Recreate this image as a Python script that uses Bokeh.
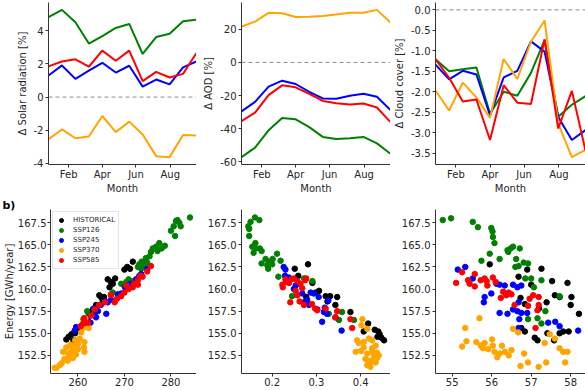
from bokeh.plotting import figure
from bokeh.layouts import column, row
from bokeh.models import FixedTicker, Span
from bokeh.embed import file_html
from bokeh.resources import INLINE

# ---------------- data: monthly changes (top row) ----------------
month_pos = [0, 1, 2, 3, 4, 5, 6, 7, 8, 9, 10, 11]
month_tick_pos = [1.5, 4.0, 6.5, 9.05]
month_tick_labels = ["Feb", "Apr", "Jun", "Aug"]

solar_126 = [4.82, 5.26, 4.51, 3.23, 3.68, 4.17, 4.41, 2.60, 3.62, 3.82, 4.57, 4.67]
solar_245 = [1.30, 1.91, 1.10, 1.59, 2.07, 1.48, 1.89, 0.63, 1.06, 0.77, 1.79, 2.15]
solar_370 = [-2.54, -1.95, -2.48, -2.38, -1.14, -2.11, -1.48, -2.26, -3.56, -3.62, -2.28, -2.32]
solar_585 = [1.85, 2.15, 2.28, 1.83, 2.80, 2.19, 2.80, 0.96, 1.52, 1.18, 1.40, 2.66]

aod_126 = [-57.1, -51.4, -40.9, -33.5, -34.3, -39.0, -44.9, -46.1, -45.7, -44.9, -48.8, -55.1]
aod_245 = [-29.5, -23.8, -14.6, -11.0, -13.0, -17.7, -21.7, -21.9, -20.1, -18.9, -20.7, -28.7]
aod_370 = [21.7, 24.6, 29.9, 29.7, 27.4, 27.6, 28.0, 28.9, 29.9, 29.9, 31.7, 24.0]
aod_585 = [-35.4, -30.3, -19.7, -13.8, -15.0, -18.9, -23.2, -24.6, -25.4, -24.8, -27.2, -36.0]

cloud_126 = [-1.21, -1.50, -1.45, -1.41, -2.54, -2.00, -2.10, -1.54, -0.74, -2.61, -2.32, -2.11]
cloud_245 = [-1.34, -1.70, -1.49, -1.58, -2.58, -1.65, -1.49, -0.77, -1.02, -2.62, -3.18, -2.94]
cloud_370 = [-1.97, -2.46, -1.78, -2.14, -2.64, -1.20, -1.69, -0.78, -0.26, -2.78, -3.60, -3.42]
cloud_585 = [-1.21, -1.66, -2.24, -2.19, -3.18, -1.84, -2.27, -2.30, -0.72, -2.90, -1.98, -3.44]

solar_ticks = [-4, -2, 0, 2, 4]
solar_tick_labels = ["-4", "-2", "0", "2", "4"]
aod_ticks = [-60, -40, -20, 0, 20]
aod_tick_labels = ["-60", "-40", "-20", "0", "20"]
cloud_ticks = [-3.5, -3.0, -2.5, -2.0, -1.5, -1.0, -0.5, 0.0]
cloud_tick_labels = ["-3.5", "-3.0", "-2.5", "-2.0", "-1.5", "-1.0", "-0.5", "0.0"]

# ---------------- data: yearly energy scatter (bottom row) ----------------
energy_ticks = [152.5, 155.0, 157.5, 160.0, 162.5, 165.0, 167.5]
energy_tick_labels = ["152.5", "155.0", "157.5", "160.0", "162.5", "165.0", "167.5"]
sr_ticks = [260, 270, 280]
sr_tick_labels = ["260", "270", "280"]
aodx_ticks = [0.2, 0.3, 0.4]
aodx_tick_labels = ["0.2", "0.3", "0.4"]
cc_ticks = [55, 56, 57, 58]
cc_tick_labels = ["55", "56", "57", "58"]

# solar radiation vs energy
hist_sr_x = [257.5, 258.0, 258.6, 259.4, 259.0, 260.2, 261.5, 262.8, 263.2, 263.9, 264.6, 265.0, 265.6, 265.3, 266.4, 267.1, 267.5, 268.0, 266.8, 270.0, 270.6, 271.2, 271.8, 264.0, 262.0]
hist_sr_y = [154.3, 154.6, 154.9, 155.0, 154.2, 155.3, 156.5, 157.4, 157.7, 158.2, 159.3, 159.1, 159.1, 158.8, 161.1, 160.8, 160.6, 161.2, 160.2, 162.2, 162.5, 162.3, 163.1, 158.0, 156.8]
s126_sr_x = [284.1, 281.4, 281.8, 282.1, 280.6, 280.0, 280.9, 281.1, 277.5, 278.7, 278.0, 276.8, 276.1, 277.1, 275.7, 275.4, 274.6, 273.7, 273.2, 272.9, 274.1, 274.9, 273.6, 270.9, 270.4, 271.4, 267.5, 267.1, 264.6, 261.4, 269.3, 262.0, 261.2, 263.5]
s126_sr_y = [168.1, 167.8, 167.5, 167.1, 167.1, 166.6, 166.0, 167.7, 165.2, 164.9, 164.6, 164.8, 164.6, 164.3, 164.2, 163.7, 163.5, 163.1, 162.8, 162.5, 162.7, 163.0, 162.3, 161.1, 160.8, 160.9, 159.6, 159.4, 158.2, 155.9, 160.6, 157.5, 156.6, 157.3]
s245_sr_x = [274.9, 273.6, 273.2, 272.5, 271.4, 270.6, 270.1, 269.3, 268.6, 267.1, 266.4, 265.8, 264.9, 264.3, 263.4, 263.6, 262.7, 262.1, 260.9, 259.6, 259.3, 266.1, 263.9]
s245_sr_y = [162.3, 161.7, 161.5, 161.1, 160.6, 160.4, 160.2, 159.5, 159.4, 158.8, 158.5, 158.6, 158.2, 157.5, 157.8, 157.0, 156.2, 156.5, 155.9, 155.7, 155.3, 157.2, 156.8]
s370_sr_x = [255.0, 255.4, 256.1, 257.1, 257.9, 258.6, 258.9, 259.3, 260.0, 259.4, 260.4, 260.7, 261.1, 261.4, 261.3, 261.4, 257.5, 258.2, 258.9, 259.6, 256.8, 260.0, 258.4, 256.5, 257.8, 261.6, 262.3]
s370_sr_y = [151.1, 151.1, 151.4, 152.1, 152.7, 152.9, 153.2, 153.6, 153.8, 154.2, 154.4, 155.1, 155.6, 154.0, 153.4, 152.9, 153.4, 152.3, 152.2, 152.6, 152.9, 153.2, 153.7, 151.6, 151.9, 156.7, 155.6]
s585_sr_x = [275.7, 274.9, 273.4, 272.9, 272.1, 271.8, 270.9, 270.0, 269.3, 268.4, 267.9, 267.1, 265.8, 264.6, 263.6, 262.9, 261.3, 261.1, 260.6, 262.2, 270.4, 273.9, 272.9]
s585_sr_y = [162.6, 162.0, 161.5, 161.0, 160.6, 160.2, 160.0, 159.6, 159.2, 158.9, 158.5, 159.3, 158.5, 158.2, 157.7, 157.0, 156.7, 156.1, 155.8, 156.2, 160.4, 161.4, 160.5]

# AOD vs energy
hist_ao_x = [0.251, 0.281, 0.259, 0.291, 0.306, 0.321, 0.331, 0.347, 0.343, 0.377, 0.417, 0.407, 0.440, 0.443, 0.447, 0.453, 0.438, 0.277, 0.298, 0.325, 0.432]
hist_ao_y = [162.3, 162.8, 161.5, 160.7, 159.8, 159.2, 159.2, 159.1, 158.2, 157.4, 156.1, 155.2, 155.2, 154.9, 154.5, 154.2, 154.6, 159.1, 159.6, 158.6, 155.4]
s126_ao_x = [0.161, 0.171, 0.151, 0.146, 0.148, 0.148, 0.162, 0.155, 0.163, 0.172, 0.176, 0.158, 0.185, 0.192, 0.201, 0.211, 0.219, 0.176, 0.189, 0.200, 0.191, 0.214, 0.245, 0.272, 0.291, 0.279, 0.328, 0.358, 0.351, 0.385]
s126_ao_y = [168.1, 167.8, 167.6, 167.1, 166.8, 166.0, 165.2, 164.8, 164.6, 164.6, 164.3, 164.1, 163.4, 163.1, 163.4, 164.0, 163.2, 162.9, 162.7, 162.8, 162.3, 161.4, 159.2, 161.2, 160.9, 158.7, 157.2, 157.4, 156.5, 156.5]
s245_ao_x = [0.226, 0.230, 0.229, 0.238, 0.253, 0.260, 0.249, 0.268, 0.279, 0.287, 0.294, 0.305, 0.272, 0.283, 0.302, 0.317, 0.324, 0.343, 0.313, 0.357, 0.327, 0.319]
s245_ao_y = [162.5, 162.2, 161.5, 161.3, 160.4, 160.6, 160.0, 159.5, 158.8, 159.6, 159.5, 159.1, 158.5, 158.2, 157.7, 157.4, 157.2, 156.8, 156.3, 155.3, 158.7, 157.9]
s370_ao_x = [0.404, 0.402, 0.415, 0.392, 0.396, 0.407, 0.419, 0.426, 0.434, 0.389, 0.401, 0.415, 0.426, 0.437, 0.411, 0.419, 0.430, 0.434, 0.415, 0.422, 0.427, 0.437, 0.441, 0.407, 0.426]
s370_ao_y = [156.6, 155.9, 155.5, 154.2, 153.9, 154.0, 154.4, 154.2, 153.6, 152.9, 153.0, 152.7, 152.9, 152.8, 152.1, 151.9, 152.3, 151.7, 151.4, 151.2, 151.8, 152.2, 152.5, 153.4, 153.3]
s585_ao_x = [0.224, 0.223, 0.232, 0.230, 0.238, 0.244, 0.249, 0.257, 0.264, 0.268, 0.275, 0.277, 0.241, 0.257, 0.262, 0.272, 0.290, 0.297, 0.302, 0.321, 0.343, 0.377, 0.381, 0.347, 0.253]
s585_ao_y = [160.2, 160.5, 160.8, 161.1, 160.7, 161.1, 161.2, 160.9, 160.6, 160.1, 161.0, 161.2, 158.5, 159.3, 158.6, 158.2, 158.3, 157.8, 157.6, 157.8, 156.8, 156.6, 155.6, 157.5, 159.8]

# cloud cover vs energy
hist_cc_x = [55.95, 56.90, 57.26, 56.68, 57.00, 57.53, 57.92, 57.60, 57.72, 58.02, 57.39, 56.73, 56.84, 58.00, 58.21, 56.84, 57.09, 57.16, 57.41, 57.58, 57.72, 57.81, 57.95, 56.75, 57.20]
hist_cc_y = [162.8, 162.2, 162.3, 161.4, 160.5, 160.9, 160.7, 159.3, 159.1, 159.1, 158.5, 159.0, 158.3, 158.2, 157.2, 155.2, 154.5, 154.2, 155.0, 154.2, 155.0, 155.2, 155.2, 155.6, 157.8]
s126_cc_x = [54.76, 54.97, 55.52, 55.65, 55.99, 56.02, 56.03, 56.07, 55.95, 56.20, 56.40, 56.48, 56.54, 56.42, 56.71, 55.74, 56.62, 56.60, 56.68, 56.81, 56.92, 56.85, 57.00, 57.26, 57.07, 57.72, 57.36, 57.16, 57.26, 56.92]
s126_cc_y = [167.8, 168.0, 167.6, 167.0, 166.9, 166.5, 165.9, 165.2, 164.0, 163.4, 164.4, 164.6, 164.8, 164.2, 164.6, 163.2, 163.4, 162.5, 162.6, 163.0, 162.9, 161.2, 161.2, 161.0, 160.2, 159.2, 157.5, 156.7, 156.1, 156.6]
s245_cc_x = [55.14, 55.33, 55.52, 55.82, 55.80, 55.99, 56.12, 56.20, 56.33, 56.54, 56.65, 56.75, 56.20, 56.40, 56.54, 56.65, 56.75, 56.90, 56.68, 56.37, 56.70, 57.43, 57.61, 57.72, 58.19, 56.68]
s245_cc_y = [162.2, 162.5, 161.2, 159.1, 158.5, 159.5, 160.6, 160.5, 160.4, 160.5, 160.2, 160.4, 157.3, 157.2, 157.7, 157.5, 157.3, 157.3, 158.5, 159.4, 156.6, 156.2, 156.3, 155.8, 155.3, 155.6]
s370_cc_x = [55.69, 55.33, 55.36, 55.25, 55.61, 55.72, 55.82, 55.78, 55.91, 56.01, 56.03, 56.07, 56.14, 56.20, 56.26, 56.33, 56.43, 56.50, 56.54, 56.67, 56.73, 56.82, 56.92, 57.34, 57.38, 57.19, 57.60, 57.72, 57.81, 57.92, 57.86, 57.47]
s370_cc_y = [156.7, 155.6, 154.1, 153.5, 154.0, 153.6, 153.9, 153.3, 153.2, 154.3, 153.6, 152.9, 152.3, 152.7, 153.6, 152.9, 152.5, 153.1, 155.5, 155.1, 151.3, 152.7, 151.7, 153.9, 151.7, 151.2, 154.4, 153.3, 152.9, 152.9, 151.7, 154.9]
s585_cc_x = [55.10, 55.25, 55.40, 55.44, 55.57, 55.57, 55.82, 55.87, 55.89, 56.03, 56.29, 56.37, 56.43, 56.50, 56.23, 56.58, 56.96, 57.05, 56.92, 57.19, 57.19, 57.16, 57.11, 55.72, 56.10]
s585_cc_y = [160.7, 161.9, 161.0, 160.6, 160.3, 161.7, 161.2, 160.9, 160.4, 161.3, 159.7, 159.3, 159.6, 159.4, 159.0, 158.2, 158.9, 159.3, 158.1, 159.1, 158.2, 157.6, 155.6, 161.0, 160.8]

scenario_names = ["HISTORICAL", "SSP126", "SSP245", "SSP370", "SSP585"]
scenario_colors = ["black", "green", "blue", "orange", "red"]

# ---------------- styling helpers ----------------
FONT = "DejaVu Sans"
TXT = "#262626"
AX = "#333333"


def make_fig(width, height, xr, yr, left, right, top, bottom):
    p = figure(width=width, height=height, x_range=xr, y_range=yr,
               output_backend="svg", toolbar_location=None,
               min_border_left=left, min_border_right=right,
               min_border_top=top, min_border_bottom=bottom)
    p.grid.visible = False
    p.outline_line_color = None
    p.background_fill_color = "white"
    p.border_fill_color = "white"
    for ax in (p.xaxis[0], p.yaxis[0]):
        ax.axis_line_color = AX
        ax.axis_line_width = 1
        ax.major_tick_line_color = AX
        ax.minor_tick_line_color = None
        ax.major_tick_out = 3
        ax.major_tick_in = 0
        ax.major_label_text_font = FONT
        ax.major_label_text_font_size = "10px"
        ax.major_label_text_color = TXT
        ax.axis_label_text_font = FONT
        ax.axis_label_text_font_size = "10px"
        ax.axis_label_text_font_style = "normal"
        ax.axis_label_text_color = TXT
    p.xaxis.major_label_standoff = 1
    p.xaxis.axis_label_standoff = 0
    p.yaxis.major_label_standoff = 2
    p.yaxis.axis_label_standoff = 3
    return p


def set_ticks(axis, ticks, labels):
    axis.ticker = FixedTicker(ticks=ticks)
    axis.major_label_overrides = {t: l for t, l in zip(ticks, labels)}


# ---------------- top row ----------------
top_specs = [
    ("\u0394 Solar radiation [%]", (-4.064, 5.704), [solar_126, solar_245, solar_370, solar_585], solar_ticks, solar_tick_labels, 196, 48),
    ("\u0394 AOD [%]", (-61.54, 36.14), [aod_126, aod_245, aod_370, aod_585], aod_ticks, aod_tick_labels, 194, 45),
    ("\u0394 Cloud cover [%]", (-3.78, 0.18), [cloud_126, cloud_245, cloud_370, cloud_585], cloud_ticks, cloud_tick_labels, 195, 45),
]
line_colors = ["green", "blue", "orange", "red"]

top_figs = []
for ylabel, yr, series, yt, ytl, w, lb in top_specs:
    p = make_fig(w, 196, (0, 11), yr, lb, 0, 2, 28)
    p.add_layout(Span(location=0, dimension="width", line_color="#8c8c8c",
                      line_dash="4 3", line_width=1))
    for vals, c in zip(series, line_colors):
        p.line(month_pos, vals, line_color=c, line_width=2)
    set_ticks(p.xaxis[0], month_tick_pos, month_tick_labels)
    set_ticks(p.yaxis[0], yt, ytl)
    p.xaxis.axis_label = "Month"
    p.yaxis.axis_label = ylabel
    top_figs.append(p)

# ---------------- bottom row ----------------
bottom_specs = [
    ((254.1, 285.5), [(hist_sr_x, hist_sr_y), (s126_sr_x, s126_sr_y), (s245_sr_x, s245_sr_y), (s370_sr_x, s370_sr_y), (s585_sr_x, s585_sr_y)], sr_ticks, sr_tick_labels, 196, 48),
    ((0.1306, 0.4676), [(hist_ao_x, hist_ao_y), (s126_ao_x, s126_ao_y), (s245_ao_x, s245_ao_y), (s370_ao_x, s370_ao_y), (s585_ao_x, s585_ao_y)], aodx_ticks, aodx_tick_labels, 194, 45),
    ((54.576, 58.376), [(hist_cc_x, hist_cc_y), (s126_cc_x, s126_cc_y), (s245_cc_x, s245_cc_y), (s370_cc_x, s370_cc_y), (s585_cc_x, s585_cc_y)], cc_ticks, cc_tick_labels, 195, 45),
]

bottom_figs = []
for i, (xr, pts, xt, xtl, w, lb) in enumerate(bottom_specs):
    p = make_fig(w, 194, xr, (150.45, 169.0), lb, 0, 13, 17)
    for (xs, ys), name, c in zip(pts, scenario_names, scenario_colors):
        if i == 0:
            p.scatter(xs, ys, size=5.5, fill_color=c, line_color=c, legend_label=name)
        else:
            p.scatter(xs, ys, size=5.5, fill_color=c, line_color=c)
    set_ticks(p.xaxis[0], xt, xtl)
    set_ticks(p.yaxis[0], energy_ticks, energy_tick_labels)
    bottom_figs.append(p)

f4 = bottom_figs[0]
f4.yaxis.axis_label = "Energy [GWh/year]"
f4.yaxis.axis_label_standoff = 0
f4.yaxis.major_label_standoff = 1
f4.title.text = "b)"
f4.title.align = "left"
f4.title.offset = -48
f4.title.standoff = -4
f4.title.text_font = FONT
f4.title.text_font_size = "11px"
f4.title.text_font_style = "bold"
f4.title.text_color = "black"

lg = f4.legend[0]
lg.location = "top_left"
lg.margin = 2
lg.padding = 3
lg.spacing = 0
lg.glyph_width = 10
lg.glyph_height = 10
lg.label_height = 10
lg.label_standoff = 7
lg.label_text_font = FONT
lg.label_text_font_size = "7px"
lg.label_text_color = TXT
lg.border_line_color = "#cccccc"
lg.border_line_width = 1
lg.background_fill_color = "white"
lg.background_fill_alpha = 0.8

layout = column(row(*top_figs), row(*bottom_figs))

open("out.html", "w").write(file_html(layout, INLINE))
